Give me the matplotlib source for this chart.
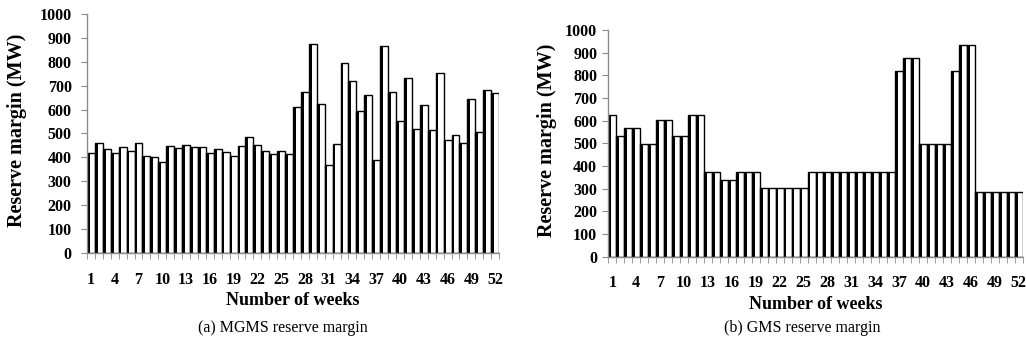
import numpy as np
import matplotlib
matplotlib.use("Agg")
import matplotlib.pyplot as plt

plt.rcParams['font.family'] = ['Liberation Serif', 'DejaVu Serif']

weeks = np.arange(1, 53)

# MGMS reserve margin (MW)
mgms = [418, 462, 435, 418, 443, 425, 460, 404, 400, 382,
        446, 439, 453, 443, 443, 418, 435, 421, 404, 446,
        485, 453, 428, 414, 425, 414, 609, 673, 873, 625,
        370, 458, 794, 721, 595, 662, 389, 864, 675, 554,
        733, 518, 621, 513, 752, 471, 492, 460, 645, 508,
        681, 671]

# GMS reserve margin (MW)
gms = [625, 534, 569, 569, 499, 499, 603, 603, 534, 534,
       625, 625, 374, 374, 338, 338, 374, 374, 374, 304,
       304, 304, 304, 304, 304, 374, 374, 374, 374, 374,
       374, 374, 374, 374, 374, 374, 819, 875, 875, 499,
       499, 499, 499, 819, 935, 935, 285, 285, 285, 285,
       285, 285]

tick_weeks = list(range(1, 53, 3))
yticks = list(range(0, 1001, 100))

fig = plt.figure(figsize=(10.26, 3.51), dpi=100)
ax1 = fig.add_axes([0.0848, 0.2792, 0.4016, 0.681])
ax2 = fig.add_axes([0.5929, 0.2687, 0.4039, 0.6459])

grey = '#8c8c8c'


def draw_panel(ax, vals, lab_x, tick_pad, ypad):
    ax.bar(weeks, vals, width=1.0, color='white', edgecolor='black', linewidth=1.0)
    # thick dark left side of each bar
    ax.bar(weeks - 0.5, vals, width=0.35, align='edge', color='black', linewidth=0)
    ax.set_xlim(0.5, 52.5)
    ax.set_ylim(0, 1000)
    ax.set_yticks(yticks)
    ax.set_xticks(tick_weeks)
    ax.set_xticks(np.arange(0.5, 53, 1.0), minor=True)
    for s in ['top', 'right']:
        ax.spines[s].set_visible(False)
    for s in ['left', 'bottom']:
        ax.spines[s].set_color(grey)
        ax.spines[s].set_linewidth(1.0)
    ax.tick_params(axis='x', which='major', length=0, pad=tick_pad)
    ax.tick_params(axis='x', which='minor', length=4, color=grey, direction='out')
    ax.tick_params(axis='y', length=4, color=grey, direction='out', pad=ypad)
    for t in ax.get_xticklabels() + ax.get_yticklabels():
        t.set_fontweight('bold')
        t.set_fontsize(11.5)
    ax.set_ylabel('Reserve margin (MW)', fontsize=14.5, fontweight='bold')
    ax.yaxis.set_label_coords(lab_x, 0.515)
    ax.set_xlabel('Number of weeks', fontsize=13, fontweight='bold')


draw_panel(ax1, mgms, -0.146, 13.5, 7)
draw_panel(ax2, gms, -0.125, 13.5, 4)
ax1.xaxis.set_label_coords(0.5, -0.165)
ax2.xaxis.set_label_coords(0.5, -0.175)

fig.text(0.276, 0.065, '(a) MGMS reserve margin', fontsize=11.5, ha='center', va='center')
fig.text(0.782, 0.065, '(b) GMS reserve margin', fontsize=11.5, ha='center', va='center')

fig.savefig('out.png', dpi=100)
